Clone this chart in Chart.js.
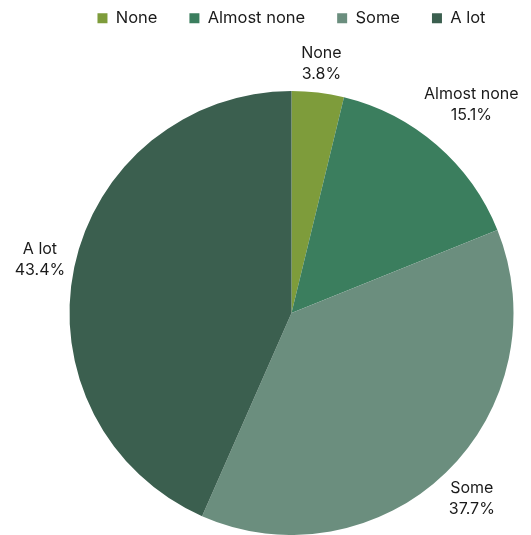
<!DOCTYPE html>
<html>
<head>
<meta charset="utf-8">
<script src="https://cdn.jsdelivr.net/npm/chart.js@4"></script>
<style>
  html, body { margin: 0; padding: 0; background: #fff; }
  #wrap { width: 531px; height: 535px; }
</style>
</head>
<body>
<div id="wrap"><canvas id="pie"></canvas></div>
<script>
// Données du graphique
const categories = ["None", "Almost none", "Some", "A lot"];
const percents = [3.8, 15.1, 37.7, 43.4];
const colors = ["#7e9c3b", "#3b7e5e", "#6b8e7e", "#3b5f4f"];

const fontFamily = "Inter, 'Noto Sans', sans-serif";
const legendPad = 32;   // espace entre les entrées de légende
const topPad = -22;     // remonte la légende vers le haut du canvas
const pieTop = 91;      // haut de la zone du camembert

// Agrandit la boîte de légende pour descendre le camembert
const legendSpacer = {
  id: "legendSpacer",
  beforeInit(chart) {
    const fit = chart.legend.fit;
    chart.legend.fit = function () {
      fit.call(this);
      this.height = pieTop - topPad;
    };
  }
};

// Étiquettes à l'extérieur du camembert : nom + pourcentage
const outsideLabels = {
  id: "outsideLabels",
  afterDatasetsDraw(chart) {
    const ctx = chart.ctx;
    const meta = chart.getDatasetMeta(0);
    ctx.save();
    ctx.font = "16px " + fontFamily;
    ctx.fillStyle = "#1a1a1a";
    ctx.textAlign = "center";
    ctx.textBaseline = "middle";
    const lineH = 21;
    meta.data.forEach((arc, i) => {
      const p = arc.getProps(["x", "y", "startAngle", "endAngle", "outerRadius"], true);
      const mid = (p.startAngle + p.endAngle) / 2;
      const lines = [categories[i], percents[i].toFixed(1) + "%"];
      const w = Math.max(...lines.map(t => ctx.measureText(t).width));
      const h = lines.length * lineH;
      const c = Math.cos(mid), s = Math.sin(mid);
      const off = 6 + Math.abs(c) * w / 2 + Math.abs(s) * h / 2;
      const cx = p.x + c * (p.outerRadius + off);
      const cy = p.y + s * (p.outerRadius + off);
      lines.forEach((t, k) => {
        ctx.fillText(t, cx, cy - h / 2 + lineH / 2 + k * lineH);
      });
    });
    ctx.restore();
  }
};

const myPie = new Chart(document.getElementById("pie"), {
  type: "pie",
  data: {
    labels: categories,
    datasets: [{
      data: percents,
      backgroundColor: colors,
      borderWidth: 0
    }]
  },
  options: {
    responsive: true,
    maintainAspectRatio: false,
    animation: false,
    layout: { padding: { left: 52, right: 0, top: topPad, bottom: 0 } },
    plugins: {
      tooltip: { enabled: false },
      legend: {
        position: "top",
        labels: {
          boxWidth: 10,
          boxHeight: 10,
          padding: legendPad,
          color: "#1a1a1a",
          font: { family: fontFamily, size: 16.5 }
        }
      }
    }
  },
  plugins: [legendSpacer, outsideLabels]
});
</script>
</body>
</html>
